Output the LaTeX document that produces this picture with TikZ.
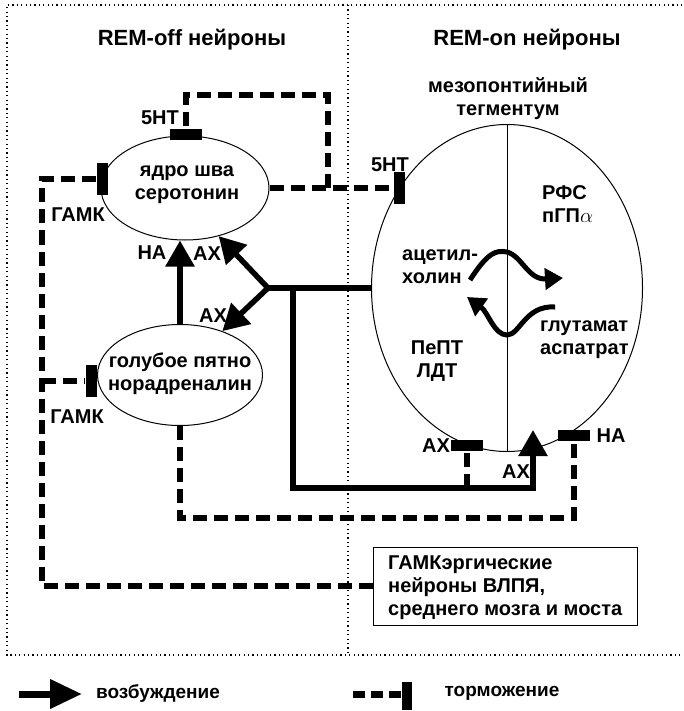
\documentclass[tikz,border=0pt]{standalone}
\usepackage{fontspec}
\setmainfont{Liberation Sans}
\usetikzlibrary{arrows.meta,shapes.geometric}

\tikzset{
  lbl/.style={font=\bfseries\fontsize{20}{23}\selectfont, inner sep=0pt, align=center},
  ttl/.style={font=\bfseries\fontsize{22}{26}\selectfont, inner sep=0pt},
  lgd/.style={font=\bfseries\fontsize{19}{22}\selectfont, inner sep=0pt},
  cell/.style={ellipse, draw, line width=1pt, inner sep=0pt},
  exc/.style={line width=5.5pt, -{Triangle[length=26pt,width=28pt]}},
  wave/.style={line width=5pt, -{Triangle[length=18pt,width=21pt]}},
  inh/.style={line width=5.5pt, dash pattern=on 14pt off 7pt},
  hbar/.style={rectangle, fill=black, inner sep=0pt, minimum width=32pt, minimum height=11pt},
  vbar/.style={rectangle, fill=black, inner sep=0pt, minimum width=11pt, minimum height=32pt},
  frame/.style={line width=1.2pt, dash pattern=on 1.2pt off 3.2pt}
}

\begin{document}
\begin{tikzpicture}[x=1pt, y=-1pt]
		\useasboundingbox (0,0) rectangle (683,711);
		% dotted frame
		\draw [frame] (700,5) -| (7,655) -- (700,655);
		\draw [frame] (348,5) -- (348,655);
		
		\node [ttl] (offtitle) at (192,40) {REM-off нейроны};
		\node [ttl] (ontitle) at (527,40) {REM-on нейроны};
		\node [lbl] (mpttitle) at (508,99) {мезопонтийный\\тегментум};
		
		% cells
		\node [cell, minimum width=168pt, minimum height=104pt] (raphe) at (185,188) {};
		\node [cell, minimum width=165pt, minimum height=101pt] (lc) at (180,375) {};
		\node [cell, minimum width=271pt, minimum height=327pt] (mpt) at (507,288) {};
		\draw [line width=1pt] (mpt.north) -- (mpt.south);
		\node [lbl] (raphetext) at (187,185) {ядро шва\\серотонин};
		\node [lbl] (lctext) at (180,374) {голубое пятно\\норадреналин};
		\node [lbl, align=left, anchor=west] (rfs) at (542,204) {РФС\\пГП$\alpha$};
		\node [lbl, align=left, anchor=west] (ach) at (402,267) {ацетил-\\холин};
		\node [lbl] (pept) at (437,361) {ПеПТ\\ЛДТ};
		\node [lbl, align=left, anchor=west] (glu) at (540,340) {глутамат\\аспатрат};
		\node [draw, line width=1pt, minimum width=264pt, minimum height=78pt] (gaba) at (505,586) {};
		\node [lbl, align=left, anchor=west] (gabatext) at (388,588) {ГАМКэргические\\нейроны ВЛПЯ,\\среднего мозга и моста};
		
		% inhibitory endings
		\node [hbar] (b5top) at (186,135) {};
		\node [vbar] (bgr) at (102,179) {};
		\node [vbar] (bgl) at (91,381) {};
		\node [vbar] (b5mpt) at (399,188) {};
		\node [hbar] (bax) at (467,445) {};
		\node [hbar] (bna) at (574,435) {};
		
		% excitation
		\draw [exc] (lc.north) -- (lc.north |- raphe.south);
		\coordinate (j) at (268,288);
		\draw [line width=5.5pt, {Triangle[length=26pt,width=28pt]}-{Triangle[length=26pt,width=28pt]}] (raphe.-55) -- (j) -- (lc.46);
		\draw [line width=5.5pt] (j) -- (mpt.west);
		\coordinate (jv) at (293,288);
		\coordinate (axd) at (467,488);
		\coordinate (axt) at (533,430);
		\draw [exc] (jv) |- (axd) -| (axt);
		
		% inhibition
		\draw [inh] (raphe.east) -- (b5mpt.west);
		\coordinate (t5) at (328,188);
		\coordinate (t5c) at (328,95);
		\draw [inh] (t5) -- (t5c) -| (b5top.north);
		\coordinate (gt) at (42,179);
		\coordinate (gm) at (42,381);
		\draw [inh] (gaba.west) -| (gt) -- (bgr.west);
		\draw [inh] (gm) -- (bgl.west);
		\coordinate (nb) at (574,518);
		\draw [inh] (lc.south) |- (nb) -- (bna.south);
		\draw [inh] (axd) -- (bax.south);
		
		% ACh <-> glutamate
		\coordinate (w1a) at (470,280);
		\coordinate (w1b) at (563,278);
		\draw [wave] (w1a) .. controls (488,252) and (496,250) .. (507,252) .. controls (522,256) and (528,280) .. (w1b);
		\coordinate (w2a) at (555,307);
		\coordinate (w2b) at (467,297);
		\draw [wave] (w2a) .. controls (525,305) and (520,335) .. (507,335) .. controls (494,335) and (488,312) .. (w2b);
		
		% transmitter labels
		\node [lbl] (l5top) at (160,118) {5HT};
		\node [lbl] (l5mpt) at (390,165) {5HT};
		\node [lbl] (lgr) at (78,215) {ГАМК};
		\node [lbl] (lgl) at (77,417) {ГАМК};
		\node [lbl] (lna1) at (152,253) {НА};
		\node [lbl] (lax1) at (207,254) {АХ};
		\node [lbl] (lax2) at (213,316) {АХ};
		\node [lbl] (lax3) at (436,446) {АХ};
		\node [lbl] (lax4) at (516,472) {АХ};
		\node [lbl] (lna2) at (611,436) {НА};
		
		% legend
		\coordinate (lgs) at (19,694);
		\coordinate (lge) at (82,694);
		\draw [line width=7pt, -{Triangle[length=32pt,width=28pt]}] (lgs) -- (lge);
		\node [lgd] (lgexc) at (158,693) {возбуждение};
		\node [vbar, minimum width=10pt, minimum height=28pt] (lgbar) at (407,696) {};
		\coordinate (lis) at (353,694);
		\draw [line width=7pt, dash pattern=on 12pt off 6pt] (lis) -- (lis -| lgbar.west);
		\node [lgd] (lginh) at (502,693) {торможение};
\end{tikzpicture}
\end{document}
